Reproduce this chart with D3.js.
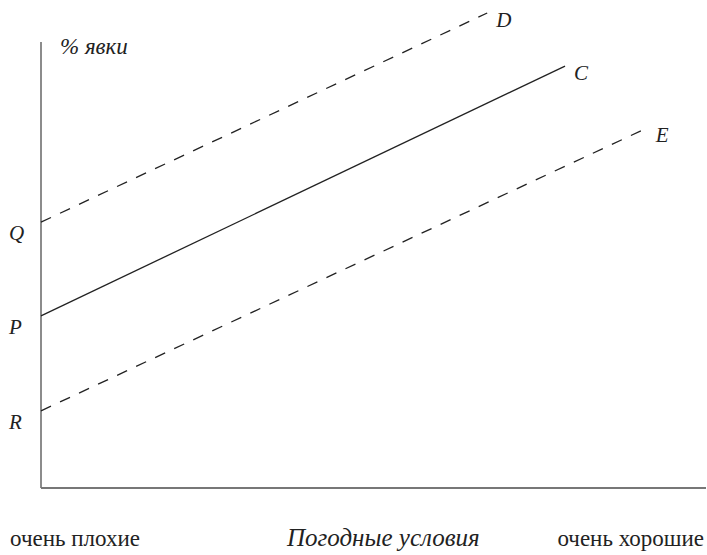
<!DOCTYPE html>
<html>
<head>
<meta charset="utf-8">
<script src="https://cdn.jsdelivr.net/npm/d3@7"></script>
<style>
  body { margin: 0; background: #fff; }
  text { font-family: "Liberation Serif", "DejaVu Serif", serif; fill: #222; }
</style>
</head>
<body>
<div class="chart"></div>
<script>
// Lines: turnout vs weather (values in arbitrary 0..100 units)
let lineNames   = ["D", "C", "E"];
let startLabels = ["Q", "P", "R"];
let startValues = [59.6, 38.6, 17.3];
let endWeather  = [67.1, 78.8, 91.1];
let endValues   = [106.5, 94.6, 80.7];
let dashed      = [true, false, true];

let yTitle = "% явки";
let xTitle = "Погодные условия";
let xTickLabels = ["очень плохие", "очень хорошие"];

let width = 707, height = 555;
let fontSize = 23;

let svg = d3.select("div.chart").append("svg")
    .attr("width", width)
    .attr("height", height);

let x = d3.scaleLinear().domain([0, 100]).range([41, 706]);
let y = d3.scaleLinear().domain([0, 100]).range([488, 42]);

// Axes (plain lines, no ticks)
svg.append("line")
  .attr("x1", x(0)).attr("y1", y(100))
  .attr("x2", x(0)).attr("y2", y(0))
  .attr("stroke", "#666").attr("stroke-width", 1.5);
svg.append("line")
  .attr("x1", x(0)).attr("y1", y(0))
  .attr("x2", x(100)).attr("y2", y(0))
  .attr("stroke", "#777").attr("stroke-width", 2);

// The three lines
lineNames.forEach(function(name, i) {
  svg.append("line")
    .attr("x1", x(0)).attr("y1", y(startValues[i]))
    .attr("x2", x(endWeather[i])).attr("y2", y(endValues[i]))
    .attr("stroke", "#222")
    .attr("stroke-width", 1.3)
    .attr("stroke-dasharray", dashed[i] ? "11,10" : null);

  // end label
  svg.append("text")
    .attr("x", x(endWeather[i]) + 9)
    .attr("y", y(endValues[i]) + 14)
    .style("font-size", "21px")
    .style("font-style", "italic")
    .text(name);

  // start label on the y axis
  svg.append("text")
    .attr("x", 9)
    .attr("y", y(startValues[i]) + 18)
    .style("font-size", "21px")
    .style("font-style", "italic")
    .text(startLabels[i]);
});

// Axis titles
svg.append("text")
  .attr("x", 60).attr("y", 54)
  .style("font-size", "23px")
  .style("font-style", "italic")
  .text(yTitle);

svg.append("text")
  .attr("x", 10).attr("y", 546)
  .style("font-size", fontSize + "px")
  .text(xTickLabels[0]);

svg.append("text")
  .attr("x", 287).attr("y", 546)
  .style("font-size", "25px")
  .style("font-style", "italic")
  .text(xTitle);

svg.append("text")
  .attr("x", 704).attr("y", 546)
  .attr("text-anchor", "end")
  .style("font-size", fontSize + "px")
  .text(xTickLabels[1]);
</script>
</body>
</html>
